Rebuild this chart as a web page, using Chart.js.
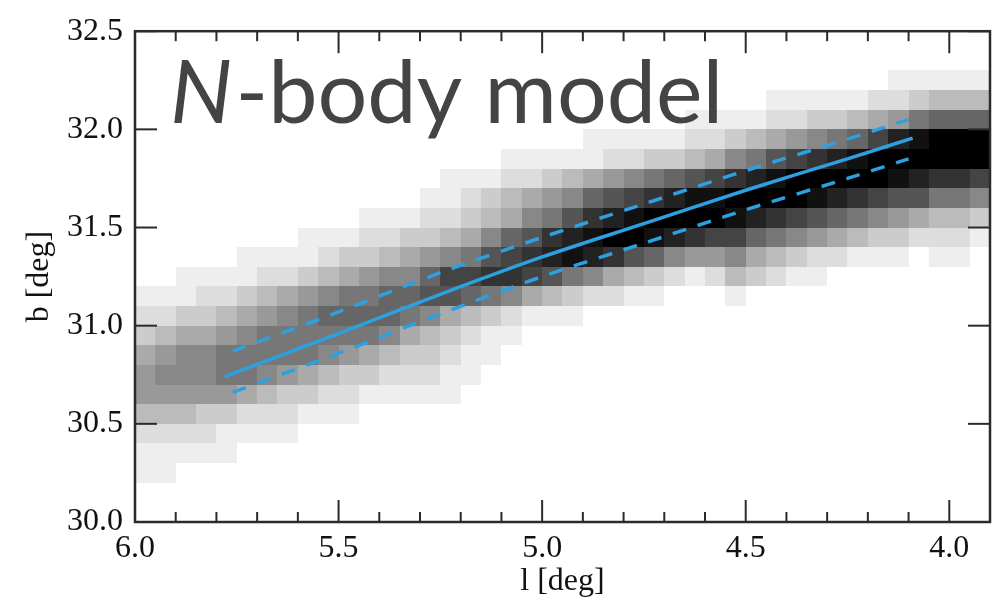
<!DOCTYPE html>
<html>
<head>
<meta charset="utf-8">
<script src="https://cdn.jsdelivr.net/npm/chart.js@4.4.1/dist/chart.umd.min.js"></script>
<style>
  html, body { margin: 0; padding: 0; background: #fff; }
  canvas { display: block; }
</style>
</head>
<body>
<canvas id="myChart" width="992" height="607"></canvas>
<script>
// bin edges of the 2d histogram (l runs from 6.0 down to 3.9)
const lEdges = [6.00, 5.95, 5.90, 5.85, 5.80, 5.75, 5.70, 5.65, 5.60, 5.55, 5.50, 5.45, 5.40, 5.35, 5.30,
  5.25, 5.20, 5.15, 5.10, 5.05, 5.00, 4.95, 4.90, 4.85, 4.80, 4.75, 4.70, 4.65, 4.60, 4.55, 4.50,
  4.45, 4.40, 4.35, 4.30, 4.25, 4.20, 4.15, 4.10, 4.05, 4.00, 3.95, 3.90]
const bEdges = [30.0, 30.1, 30.2, 30.3, 30.4, 30.5, 30.6, 30.7, 30.8, 30.9, 31.0, 31.1, 31.2,
  31.3, 31.4, 31.5, 31.6, 31.7, 31.8, 31.9, 32.0, 32.1, 32.2, 32.3, 32.4, 32.5]

// one string per l-bin, one hex digit per b-bin from b=30.0 upwards (0 = empty, f = densest)
const density = [
  "0011246653210000000000000",
  "0011246764210000000000000",
  "0001246775311000000000000",
  "0001236775321000000000000",
  "0001136886421000000000000",
  "0000125887531100000000000",
  "0000124788642100000000000",
  "0000123688752100000000000",
  "0000013588863110000000000",
  "0000012478974210000000000",
  "0000012368985310000000000",
  "0000001358986321000000000",
  "0000001247997421000000000",
  "0000001235897531000000000",
  "00000012347a9632100000000",
  "00000011235ab742110000000",
  "000000011249b853210000000",
  "000000001138ca74310000000",
  "000000000127cb95421000000",
  "000000000015bca7521000000",
  "000000000014adc8631000000",
  "0000000000138eda741000000",
  "0000000000027dec951100000",
  "0000000000025cfda62100000",
  "0000000000014afeb72100000",
  "00000000000139efc83100000",
  "00000000000027dfd93100000",
  "00000000000016cfea4210000",
  "00000000000026bfeb5210000",
  "00000000000147befc7310000",
  "000000000000359dfd8410000",
  "000000000000248cfea521000",
  "000000000000137bffb621000",
  "000000000000126aefc731000",
  "0000000000000259dfd831000",
  "0000000000000148cfe941000",
  "0000000000000137bffb52000",
  "0000000000000136aefd62100",
  "0000000000000025adfe83100",
  "00000000000001248cff94100",
  "00000000000001248cff94100",
  "00000000000000137bff94100"
]

// stream track and its width
const trackL = [5.78, 5.5, 5.25, 5.0, 4.75, 4.5, 4.25, 4.09]
const trackB = [30.74, 30.96, 31.16, 31.35, 31.52, 31.69, 31.85, 31.955]
const edgeL = [5.76, 5.5, 5.25, 5.0, 4.75, 4.5, 4.25, 4.10]
const upperB = [30.87, 31.07, 31.27, 31.45, 31.62, 31.79, 31.95, 32.05]
const lowerB = [30.66, 30.86, 31.06, 31.25, 31.42, 31.59, 31.75, 31.85]

const xTicks = [6.0, 5.5, 5.0, 4.5, 4.0]
const yTicks = [30.0, 30.5, 31.0, 31.5, 32.0, 32.5]

const blue = 'rgb(45, 160, 225)'
const serif = 'Liberation Serif'

const heatmap = {
  id: 'heatmap',
  beforeDatasetsDraw(chart) {
    const {ctx, chartArea, scales: {x, y}} = chart
    ctx.save()
    ctx.beginPath()
    ctx.rect(chartArea.left, chartArea.top, chartArea.width, chartArea.height)
    ctx.clip()
    density.forEach((col, k) => {
      const xa = Math.round(x.getPixelForValue(lEdges[k]))
      const xb = Math.round(x.getPixelForValue(lEdges[k + 1]))
      for (let r = 0; r < col.length; r++) {
        const v = parseInt(col[r], 16)
        if (!v) continue
        const g = Math.round(255 * (1 - v / 15))
        const ya = Math.round(y.getPixelForValue(bEdges[r + 1]))
        const yb = Math.round(y.getPixelForValue(bEdges[r]))
        ctx.fillStyle = `rgb(${g},${g},${g})`
        ctx.fillRect(Math.min(xa, xb), ya, Math.abs(xb - xa), yb - ya)
      }
    })
    ctx.restore()
  }
}

const frame = {
  id: 'frame',
  afterDatasetsDraw(chart) {
    const {ctx, chartArea: {left, right, top, bottom}, scales: {x, y}} = chart
    ctx.save()

    // panel label
    ctx.fillStyle = '#444'
    ctx.textBaseline = 'alphabetic'
    ctx.font = 'italic 88px Lato'
    const tx = left + 35, ty = top + 92
    ctx.fillText('N', tx, ty)
    const w = ctx.measureText('N').width
    ctx.font = '88px Lato'
    ctx.fillText('-body model', tx + w + 3, ty)

    const line = (x0, y0, x1, y1) => {
      ctx.beginPath(); ctx.moveTo(x0, y0); ctx.lineTo(x1, y1); ctx.stroke()
    }
    ctx.strokeStyle = '#2b2b2b'
    ctx.lineWidth = 2
    xTicks.forEach(v => {
      const px = x.getPixelForValue(v)
      line(px, bottom, px, bottom - 22)
      line(px, top, px, top + 22)
    })
    for (let i = 39; i <= 60; i++) {
      if (i % 5 === 0) continue
      const px = x.getPixelForValue(i / 10)
      line(px, bottom, px, bottom - 10)
      line(px, top, px, top + 10)
    }
    yTicks.forEach(v => {
      const py = y.getPixelForValue(v)
      line(left, py, left + 22, py)
      line(right, py, right - 22, py)
    })
    ctx.lineWidth = 2.5
    ctx.strokeRect(left, top, right - left, bottom - top)
    ctx.restore()
  }
}

const toPoints = (ls, bs) => ls.map((l, i) => ({x: l, y: bs[i]}))

new Chart(document.getElementById('myChart'), {
  type: 'scatter',
  data: {
    datasets: [
      {data: toPoints(trackL, trackB), showLine: true, borderColor: blue, borderWidth: 3.5, pointRadius: 0, tension: 0.3},
      {data: toPoints(edgeL, upperB), showLine: true, borderColor: blue, borderWidth: 3.5, borderDash: [14, 12], pointRadius: 0, tension: 0.3},
      {data: toPoints(edgeL, lowerB), showLine: true, borderColor: blue, borderWidth: 3.5, borderDash: [14, 12], pointRadius: 0, tension: 0.3}
    ]
  },
  options: {
    responsive: false,
    animation: false,
    events: [],
    layout: {padding: {top: 26, right: 2, left: 0, bottom: 0}},
    plugins: {legend: {display: false}, tooltip: {enabled: false}},
    scales: {
      x: {
        type: 'linear', reverse: true, min: 3.9, max: 6.0,
        afterBuildTicks: s => { s.ticks = xTicks.map(v => ({value: v})) },
        afterFit: s => { s.height = 85 },
        grid: {display: false, drawTicks: false},
        border: {display: false},
        ticks: {autoSkip: false, maxRotation: 0, padding: 7, color: '#111', font: {family: serif, size: 32}, callback: v => v.toFixed(1)},
        title: {display: true, text: 'l [deg]', color: '#111', font: {family: serif, size: 32}, padding: {top: 0, bottom: 6}}
      },
      y: {
        type: 'linear', min: 30.0, max: 32.5,
        afterBuildTicks: s => { s.ticks = yTicks.map(v => ({value: v})) },
        afterFit: s => { s.width = 135 },
        grid: {display: false, drawTicks: false},
        border: {display: false},
        ticks: {autoSkip: false, padding: 12, color: '#111', font: {family: serif, size: 32}, callback: v => v.toFixed(1)},
        title: {display: true, text: 'b [deg]', color: '#111', font: {family: serif, size: 32}, padding: {top: 20, bottom: 0}}
      }
    }
  },
  plugins: [heatmap, frame]
})
</script>
</body>
</html>
